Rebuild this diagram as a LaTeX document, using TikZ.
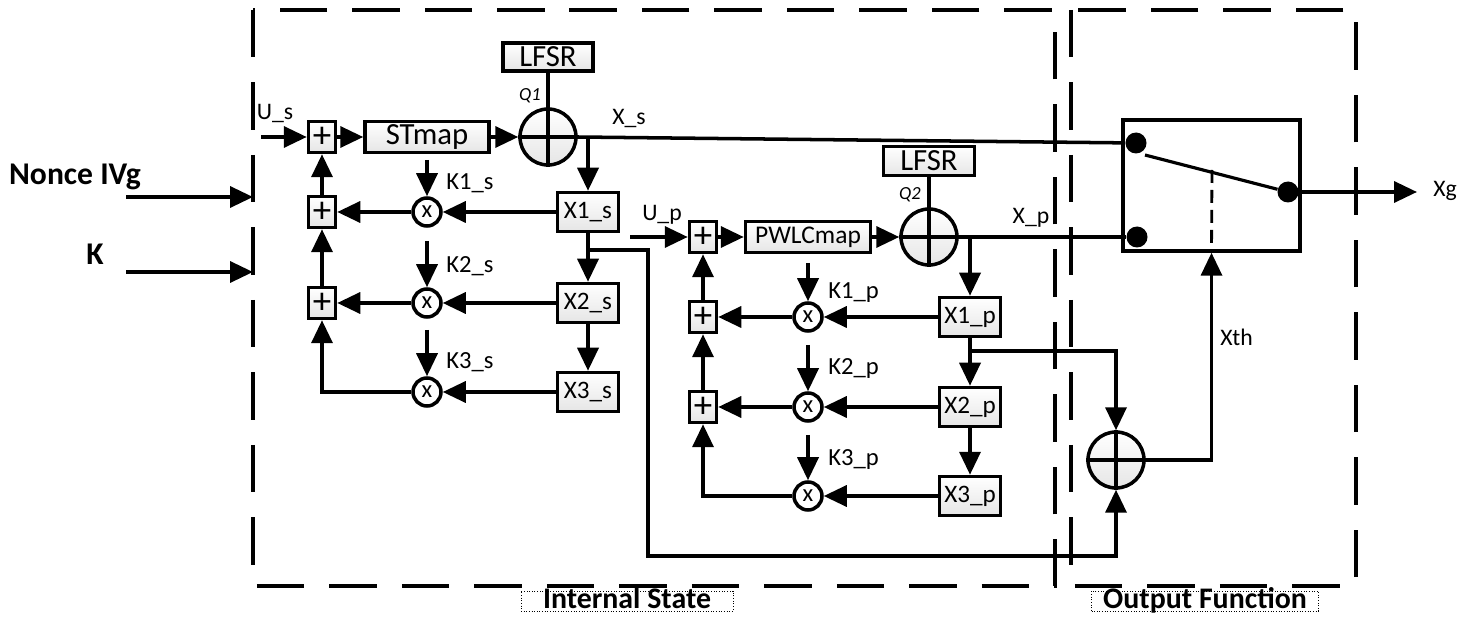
\documentclass[tikz,border=0pt]{standalone}
\usepackage{fontspec}
\setmainfont{Carlito}
\usetikzlibrary{arrows.meta,calc}

\tikzset{
  sig/.style={line width=2pt},
  arr/.style={sig, -{Triangle[length=0.46cm, width=0.42cm]}},
  mapbox/.style={draw, line width=2pt, top color=white, bottom color=black!10,
    minimum width=2.48cm, minimum height=0.62cm, inner sep=0pt,
    font=\fontsize{17.5}{17.5}\selectfont},
  regbox/.style={mapbox, minimum width=1.22cm, minimum height=0.78cm,
    font=\fontsize{14.3}{14.3}\selectfont},
  sumbox/.style={mapbox, minimum width=0.54cm, minimum height=0.62cm,
    font=\fontsize{21}{21}\selectfont},
  multc/.style={circle, draw, line width=2pt, fill=white, minimum size=0.56cm,
    inner sep=0pt, font=\fontsize{14}{14}\selectfont},
  xorc/.style={circle, draw, line width=2pt, top color=white, bottom color=black!10,
    minimum size=1.12cm, inner sep=0pt},
  contact/.style={circle, fill=black, minimum size=0.42cm, inner sep=0pt},
  lbl/.style={inner sep=0pt, font=\fontsize{13.5}{13.5}\selectfont},
  klbl/.style={inner sep=0pt, anchor=west, font=\fontsize{14}{14}\selectfont},
  qlbl/.style={inner sep=0pt, font=\fontsize{10.5}{10.5}\selectfont\itshape},
  inlbl/.style={inner sep=0pt, anchor=base, font=\fontsize{18}{18}\selectfont\bfseries},
  region/.style={line width=1.9pt, dash pattern=on 0.95cm off 0.5cm},
  regionlbl/.style={draw, densely dotted, line width=0.5pt, inner xsep=0pt, inner ysep=0.02cm,
    text height=0.34cm, text depth=0.02cm, minimum width=4.24cm,
    font=\fontsize{17}{17}\selectfont\bfseries},
}

\begin{document}
\begin{tikzpicture}[x=0.02cm, y=-0.02cm]
\useasboundingbox (0,0) rectangle (1461,621);

% dashed regions
\draw[region] (253,10) rectangle (1055,586);
\draw[region] (1071,10) rectangle (1356,586);
\node[regionlbl] (lblState) at (627,601) {Internal State};
\node[regionlbl, minimum width=4.54cm] (lblOut) at (1205,601) {Output Function};

% inputs
\node[inlbl] (nonce) at (75,185) {Nonce IVg};
\node[inlbl] (key) at (95,265) {K};
\coordinate (nonceA) at (126,197);
\coordinate (nonceB) at (253,197);
\coordinate (keyA) at (126,272);
\coordinate (keyB) at (253,272);
\draw[arr] (nonceA) -- (nonceB);
\draw[arr] (keyA) -- (keyB);

% skew tent map chain
\node[sumbox] (sumS1) at (322,137) {+};
\node[sumbox] (sumS2) at (322,212) {+};
\node[sumbox] (sumS3) at (322,303) {+};
\node[mapbox] (stmap) at (427,137) {STmap};
\node[xorc] (xorQ1) at (548,137) {};
\node[mapbox, minimum width=1.8cm, minimum height=0.56cm] (lfsrA) at (548,57) {LFSR};
\node[qlbl] (q1) at (530,96) {Q1};
\node[lbl] (us) at (275,113) {U\_s};
\node[lbl] (xsl) at (629,118) {X\_s};
\coordinate (usIn) at (261,137);
\foreach \i/\y/\k/\l in {1/212/160/183, 2/303/241/266, 3/392/330/362} {
  \node[regbox] (xs\i) at (588,\y) {X\i\_s};
  \node[multc] (ms\i) at (427,\y) {x};
  \coordinate (ks\i) at (427,\k);
  \node[klbl] at (446,\l) {K\i\_s};
  \draw[arr] (ks\i) -- (ms\i);
  \draw[arr] (xs\i) -- (ms\i);
}
\draw[arr] (usIn) -- (sumS1);
\draw[arr] (sumS1) -- (stmap);
\draw[arr] (stmap) -- (xorQ1.west);
\draw[sig] (xorQ1.west) -- (xorQ1.east);
\draw[sig] (lfsrA) -- (xorQ1.south);
\draw[arr] (xorQ1.east -| xs1) -- (xs1);
\draw[arr] (xs1) -- (xs2);
\draw[arr] (xs2) -- (xs3);
\draw[arr] (ms1) -- (sumS2);
\draw[arr] (ms2) -- (sumS3);
\draw[arr] (ms3) -| (sumS3);
\draw[arr] (sumS3) -- (sumS2);
\draw[arr] (sumS2) -- (sumS1);

% piecewise linear map chain
\node[sumbox] (sumP1) at (703,237) {+};
\node[sumbox] (sumP2) at (703,317) {+};
\node[sumbox] (sumP3) at (703,407) {+};
\node[mapbox, minimum width=2.5cm, font=\fontsize{14.5}{14.5}\selectfont] (pwlc) at (808,237) {PWLCmap};
\node[xorc] (xorQ2) at (929,237) {};
\node[mapbox, minimum width=1.82cm, minimum height=0.58cm] (lfsrB) at (929,161) {LFSR};
\node[qlbl] (q2) at (910,195) {Q2};
\node[lbl] (up) at (662,215) {U\_p};
\node[lbl] (xpl) at (1031,218) {X\_p};
\coordinate (upIn) at (630,237);
\foreach \i/\y/\k/\l in {1/317/263/293, 2/407/345/369, 3/496/435/460} {
  \node[regbox] (xp\i) at (970,\y) {X\i\_p};
  \node[multc] (mp\i) at (808,\y) {x};
  \coordinate (kp\i) at (808,\k);
  \node[klbl] at (828,\l) {K\i\_p};
  \draw[arr] (kp\i) -- (mp\i);
  \draw[arr] (xp\i) -- (mp\i);
}
\draw[arr] (upIn) -- (sumP1);
\draw[arr] (sumP1) -- (pwlc);
\draw[arr] (pwlc) -- (xorQ2.west);
\draw[sig] (xorQ2.west) -- (xorQ2.east);
\draw[sig] (lfsrB) -- (xorQ2.south);
\draw[arr] (xorQ2.east -| xp1) -- (xp1);
\draw[arr] (xp1) -- (xp2);
\draw[arr] (xp2) -- (xp3);
\draw[arr] (mp1) -- (sumP2);
\draw[arr] (mp2) -- (sumP3);
\draw[arr] (mp3) -| (sumP3);
\draw[arr] (sumP3) -- (sumP2);
\draw[arr] (sumP2) -- (sumP1);

% output function
\node[xorc] (xorOut) at (1116,460) {};
\draw[sig] (xorOut.west) -- (xorOut.east);
\draw[sig] (xorOut.north) -- (xorOut.south);
\coordinate (tapS) at (588,250);
\coordinate (bendS) at (648,556);
\coordinate (tapP) at (970,351);
\draw[arr] (tapS) -| (bendS) -| (xorOut.south);
\draw[arr] (tapP) -| (xorOut.north);

% switch
\node[draw, line width=2pt, minimum width=3.54cm, minimum height=2.62cm] (swbox) at (1211.5,185.5) {};
\node[contact] (swA) at (1136,143) {};
\node[contact] (swB) at (1137,237) {};
\node[contact] (swC) at (1288,192) {};
\coordinate (lever) at (1145,155);
\coordinate (levMid) at (1212,170);
\draw[line width=1.8pt] (lever) -- (swC);
\draw[line width=1.6pt, dash pattern=on 0.26cm off 0.14cm] (levMid) -- (swbox.south);
\draw[sig] (xorQ1.east) -- (swA);
\draw[sig] (xorQ2.east) -- (swB);
\draw[arr] (xorOut.east) -| (swbox.south);
\node[lbl, anchor=base west] (xth) at (1220,346) {Xth};
\coordinate (xgEnd) at (1417,192);
\draw[arr] (swC) -- (xgEnd);
\node[lbl, anchor=base] (xg) at (1445,197) {Xg};

\end{tikzpicture}
\end{document}
